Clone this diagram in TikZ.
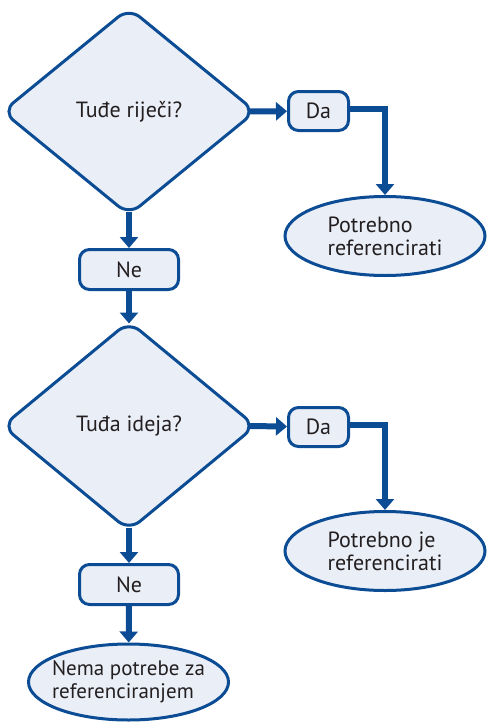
\documentclass[tikz,border=0pt]{standalone}
\usepackage{fontspec}
\setmainfont{PT Sans}
\usetikzlibrary{shapes.geometric,arrows.meta}
\definecolor{linija}{HTML}{0B4C94}
\definecolor{pozadina}{HTML}{EAEEF7}
\definecolor{tekst}{HTML}{231F20}

\begin{document}
\begin{tikzpicture}[x=1pt, y=-1pt,
        every node/.style={text=tekst, font=\fontsize{22}{23}\selectfont},
        pitanje/.style={shape=diamond, draw=linija, fill=pozadina, line width=3pt,
            rounded corners=14pt, inner sep=0pt, minimum width=254pt, minimum height=208pt},
        odgovor/.style={rectangle, draw=linija, fill=pozadina, line width=3pt,
            rounded corners=10pt, inner sep=0pt},
        ishod/.style={ellipse, draw=linija, fill=pozadina, line width=3pt,
            inner xsep=-25pt, inner ysep=-8pt, minimum width=200pt, align=left},
        tok/.style={draw=linija, line width=6pt,
            -{Triangle[width=18pt, length=11pt]}}]
            \useasboundingbox (0, 0) rectangle (487, 723);
            \node[pitanje] (d1) at (129, 111.5) {Tuđe riječi?};
            \node[odgovor, minimum width=60pt, minimum height=39pt] (da1) at (318.5, 111) {Da};
            \node[ishod, minimum height=79pt] (e1) at (385, 236) {Potrebno\\referencirati};
            \node[odgovor, minimum width=99pt, minimum height=40pt] (ne1) at (129, 269.5) {Ne};
            \node[pitanje, minimum height=210pt] (d2) at (129, 426) {Tuđa ideja?};
            \node[odgovor, minimum width=60pt, minimum height=39pt] (da2) at (318.5, 427) {Da};
            \node[ishod, minimum height=79pt] (e2) at (385, 551) {Potrebno je\\referencirati};
            \node[odgovor, minimum width=99pt, minimum height=40pt] (ne2) at (129, 584.5) {Ne};
            \node[ishod, minimum height=76pt, font=\fontsize{21}{23}\selectfont] (e3) at (128.5, 682) {Nema potrebe za\\referenciranjem};
            \draw[tok] ([xshift=-8pt]d1.east) -- (da1);
            \draw[tok] ([yshift=2pt]da1.east) -| (e1.north);
            \draw[tok] ([yshift=5pt]d1.south) -- (ne1);
            \draw[tok] (ne1) -- ([yshift=-4pt]d2.north);
            \draw[tok] ([xshift=-8pt]d2.east) -- (da2);
            \draw[tok] ([yshift=2pt]da2.east) -| (e2.north);
            \draw[tok] ([yshift=5pt]d2.south) -- (ne2);
            \draw[tok] (ne2) -- (e3);
        \end{tikzpicture}
\end{document}
